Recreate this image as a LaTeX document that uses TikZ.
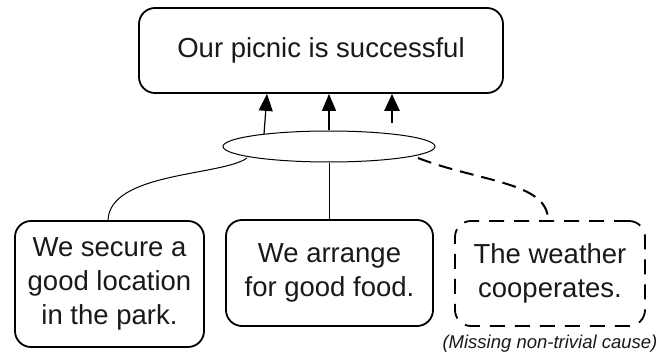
\documentclass[tikz,border=0pt]{standalone}
\usepackage{fontspec}
\setmainfont{Liberation Sans}
\usetikzlibrary{arrows.meta,shapes.geometric}
\begin{document}
\begin{tikzpicture}[x=1pt,y=1pt,
  box/.style={draw=black,line width=1.8pt,rounded corners=16pt,align=center,
    font=\fontsize{27.5}{34}\selectfont,inner sep=0pt,text=black!90},
  link/.style={line width=1pt},
  arr/.style={line width=1.2pt,-{Triangle[length=17pt,width=14pt]}},
  thickarr/.style={line width=2.6pt,-{Triangle[length=17pt,width=15pt]}},
]
\useasboundingbox (0,0) rectangle (665,-353);
\node[box,minimum width=364pt,minimum height=85pt] (top) at (321,-50.5) {Our picnic is successful};
\node[draw,ellipse,line width=1pt,minimum width=212pt,minimum height=31pt,inner sep=0pt] (ell) at (329,-146.5) {};
\node[box,minimum width=189pt,minimum height=126pt] (b1) at (109.5,-284) {We secure a\\good location\\in the park.};
\node[box,minimum width=207pt,minimum height=106pt] (b2) at (329.5,-273) {We arrange\\for good food.};
\node[box,dash pattern=on 15pt off 10pt,minimum width=190pt,minimum height=105pt] (b3) at (550,-273.5) {The weather\\cooperates.};
\node[anchor=base,font=\fontsize{18.5}{22}\selectfont\itshape,text=black!90,inner sep=0pt] (cap) at (550,-348) {(Missing non-trivial cause)};
% arrows
\coordinate (a1s) at (264,-134);
\coordinate (a1e) at (267,-93);
\coordinate (a3s) at (392,-123);
\draw[arr] (a1s) -- (a1e |- top.south);
\draw[arr] (ell.north) -- (ell.north |- top.south);
\draw[thickarr] (a3s) -- (a3s |- top.south);
% links
\coordinate (l1) at (247,-158);
\coordinate (l3) at (418,-158);
\draw[link] (l1) .. controls (222,-176) and (110,-172) .. ([xshift=-1.5pt]b1.north);
\draw[link] (ell.south) -- (ell.south |- b2.north);
\draw[link,line width=2pt,dash pattern=on 14pt off 8pt] (l3) .. controls (480,-182) and (548,-182) .. ([xshift=-2pt]b3.north);
\end{tikzpicture}
\end{document}
